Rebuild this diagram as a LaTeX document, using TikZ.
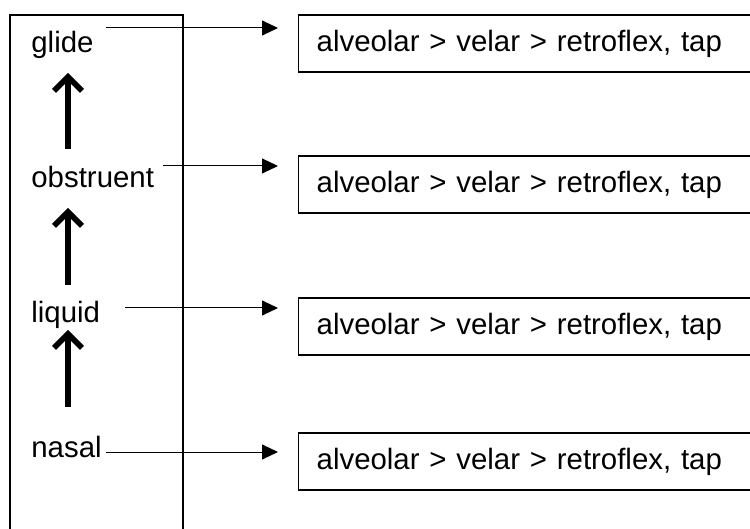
\documentclass[tikz,border=0pt]{standalone}
\usepackage{fontspec}
\setmainfont{Liberation Sans}
\usetikzlibrary{arrows.meta}
\tikzset{
  sclass/.style={anchor=base west,inner sep=0pt},
  placebox/.style={draw,line width=0.7pt,anchor=west,minimum height=28.5pt,
    inner xsep=9pt,text width=240pt,align=left},
  conn/.style={line width=0.5pt,-{Triangle[length=8pt,width=7.5pt]},shorten >=10pt},
  climb/.style={line width=2.8pt,-{Straight Barb[length=7pt,width=14pt]}}
}
\begin{document}
\begin{tikzpicture}[x=0.5pt,y=-0.5pt,font=\fontsize{14.7}{17}\selectfont]
\clip (0,0) rectangle (750,529);
% tier frame, open at the bottom
\draw[line width=0.6pt] (10,545) -- (10,15) -- (183,15) -- (183,545);
% classes
\node[sclass] (glide) at (31,53) {glide};
\node[sclass] (obstruent) at (31,188) {obstruent};
\node[sclass] (liquid) at (31,322.5) {liquid};
\node[sclass] (nasal) at (31,457.5) {nasal};
% places
\node[placebox] (b1) at (298,43.5) {alveolar > velar > retroflex, tap};
\node[placebox] (b2) at (298,184.5) {alveolar > velar > retroflex, tap};
\node[placebox] (b3) at (298,326.5) {alveolar > velar > retroflex, tap};
\node[placebox] (b4) at (298,461.5) {alveolar > velar > retroflex, tap};
% hierarchy
\coordinate (u1) at (68,149);
\coordinate (u2) at (68,285);
\coordinate (u3) at (68,407);
\draw[climb,shorten >=10pt] (u1) -- (glide.base -| u1);
\draw[climb,shorten >=10pt] (u2) -- (obstruent.base -| u2);
\draw[climb,shorten >=3.75pt] (u3) -- (liquid.base -| u3);
% links
\coordinate (g0) at (106,28);
\coordinate (o0) at (163,166);
\coordinate (l0) at (125,308);
\coordinate (n0) at (106,452);
\draw[conn] (g0) -- (g0 -| b1.west);
\draw[conn] (o0) -- (o0 -| b2.west);
\draw[conn] (l0) -- (l0 -| b3.west);
\draw[conn] (n0) -- (n0 -| b4.west);
\end{tikzpicture}
\end{document}
